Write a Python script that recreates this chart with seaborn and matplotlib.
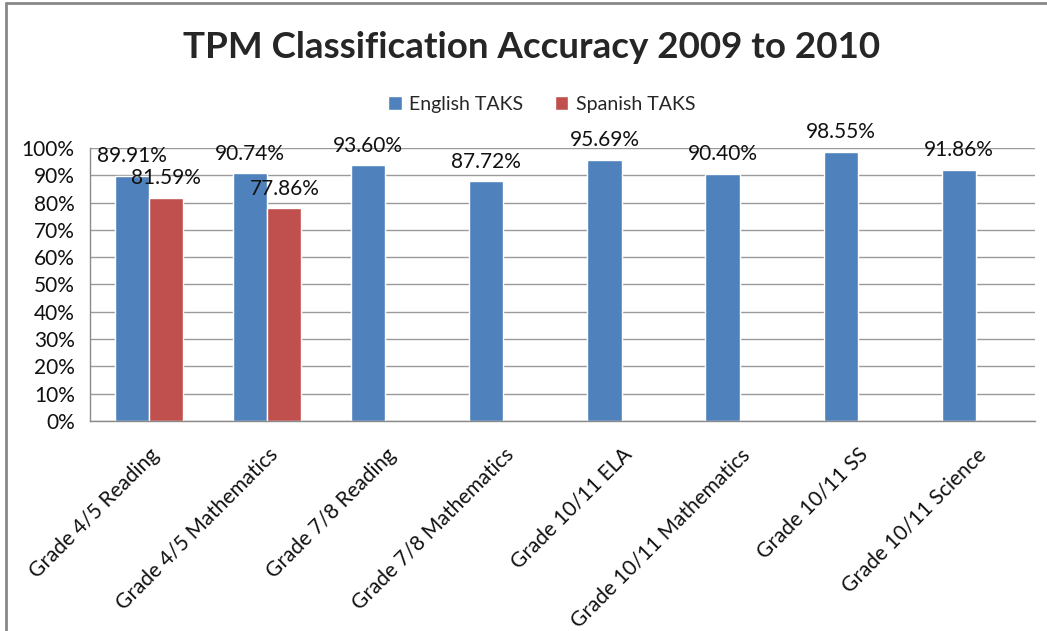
import seaborn as sns
import matplotlib.pyplot as plt
import pandas as pd
import numpy as np
from matplotlib.lines import Line2D
from matplotlib.ticker import PercentFormatter, FixedLocator

categories = ["Grade 4/5 Reading", "Grade 4/5 Mathematics", "Grade 7/8 Reading",
              "Grade 7/8 Mathematics", "Grade 10/11 ELA", "Grade 10/11 Mathematics",
              "Grade 10/11 SS", "Grade 10/11 Science"]
english = [89.91, 90.74, 93.60, 87.72, 95.69, 90.40, 98.55, 91.86]
spanish = [81.59, 77.86, None, None, None, None, None, None]
series = ["English TAKS", "Spanish TAKS"]
colors = ["#4F81BD", "#C0504D"]

rows = []
for c, e, s in zip(categories, english, spanish):
    rows.append({"cat": c, "series": series[0], "val": e})
    rows.append({"cat": c, "series": series[1], "val": np.nan if s is None else s})
df = pd.DataFrame(rows)

sns.set_style("white")
plt.rcParams["font.family"] = ["Lato", "DejaVu Sans"]

fig = plt.figure(figsize=(10.47, 6.31), dpi=100)
ax = fig.add_axes([0.086, 0.333, 0.9025, 0.4325])

sns.barplot(data=df, x="cat", y="val", hue="series", palette=colors,
            width=0.58, saturation=1, order=categories, hue_order=series, ax=ax)

ax.set_ylim(0, 100)
ax.set_xlim(-0.5, len(categories) - 0.5)
ax.yaxis.set_major_locator(FixedLocator(np.arange(0, 101, 10)))
ax.yaxis.set_major_formatter(PercentFormatter(decimals=0))
ax.grid(axis="y", color="#9a9a9a", linewidth=1)
ax.set_axisbelow(True)
for side in ["top", "right"]:
    ax.spines[side].set_visible(False)
for side in ["left", "bottom"]:
    ax.spines[side].set_color("#8a8a8a")
    ax.spines[side].set_linewidth(1)

ax.tick_params(axis="y", which="major", length=5, color="#8a8a8a", labelsize=15, pad=6,
               labelcolor="#111111")
ax.set_xticks(range(len(categories)))
ax.set_xticklabels(categories, rotation=45, ha="right", rotation_mode="anchor",
                   fontsize=15, color="#111111")
ax.tick_params(axis="x", which="major", length=0, pad=17)
ax.set_xticks(np.arange(-0.5, len(categories), 1), minor=True)
ax.tick_params(axis="x", which="minor", length=6, color="#8a8a8a")
ax.set_xlabel("")
ax.set_ylabel("")

for cont in ax.containers:
    labels = ["" if np.isnan(v) else f"{v:.2f}%" for v in cont.datavalues]
    ax.bar_label(cont, labels=labels, padding=7, fontsize=15, color="#111111")

ax.legend(loc="center", bbox_to_anchor=(0.478, 1.16), ncol=2, frameon=False,
          fontsize=14, handlelength=0.7, handleheight=0.7, columnspacing=1.6,
          handletextpad=0.4)

fig.text(0.508, 0.925, "TPM Classification Accuracy 2009 to 2010", ha="center",
         va="center", fontsize=26.5, fontweight="bold")

fig.add_artist(Line2D([0.0055, 0.0055], [0, 0.995], color="#888888", linewidth=2))
fig.add_artist(Line2D([0.0055, 1], [0.995, 0.995], color="#888888", linewidth=2))

fig.savefig("out.png", dpi=100)
